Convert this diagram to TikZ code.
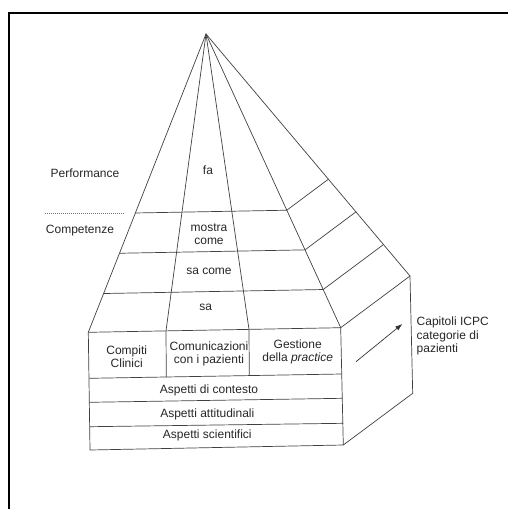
\documentclass[tikz,border=0pt]{standalone}
\usepackage{fontspec}
\setsansfont{Liberation Sans}
\usepackage{xcolor}
\usepackage{tikz}
\usetikzlibrary{arrows.meta, positioning, calc}

\begin{document}
\begin{tikzpicture}[
    x=1pt, y=-1pt,
    edge/.style={draw, black!75, line width=0.7pt},
    label/.style={align=center, inner sep=0pt, text=black!85, font=\fontsize{12}{13.5}\selectfont\sffamily},
    sidelabel/.style={align=left, inner sep=0pt, text=black!85, font=\fontsize{12}{13.8}\selectfont\sffamily},
    line/.style={draw, ->, >={Latex[length=7pt, width=5pt]}, black!80, line width=0.7pt},
    dottedline/.style={draw, black!55, line width=0.5pt, dash pattern=on 1pt off 1pt}
]
    \useasboundingbox (0,0) rectangle (508,509);
    \draw[line width=2pt] (8.5,509) -- (8.5,13) -- (508,13);

    % Pyramid corners
    \coordinate (apex) at (206,34);
    \coordinate (fl) at (88.3,332.3);
    \coordinate (d1) at (166,330.9);
    \coordinate (d2) at (249,329.4);
    \coordinate (fr) at (340.7,327.7);
    \coordinate (br) at (410,276);

    % Box corners
    \coordinate (r1l) at (89.3,378.3);  \coordinate (r1r) at (341.7,374);
    \coordinate (r2l) at (89.3,402.3);  \coordinate (r2r) at (342.3,398.3);
    \coordinate (r3l) at (90,426.7);    \coordinate (r3r) at (343.3,423.3);
    \coordinate (bl) at (90,450);       \coordinate (bfr) at (343.3,445);
    \coordinate (bbr) at (412.7,393.3);
    \coordinate (d1b) at (166.3,377);
    \coordinate (d2b) at (249.3,375.6);

    % Pyramid edges
    \draw[edge] (fl) -- (apex) -- (fr);
    \draw[edge] (apex) -- (br);
    \draw[edge] (apex) -- (d1) -- (d1b);
    \draw[edge] (apex) -- (d2) -- (d2b);

    % Levels
    \foreach \t in {0.6,0.735,0.87}
        \draw[edge] ($(apex)!\t!(fl)$) -- ($(apex)!\t!(fr)$) -- ($(apex)!\t!(br)$);

    % Box
    \draw[edge] (fl) -- (fr) -- (br);
    \draw[edge] (fl) -- (bl) -- (bfr) -- (fr);
    \draw[edge] (br) -- (bbr) -- (bfr);
    \draw[edge] (r1l) -- (r1r);
    \draw[edge] (r2l) -- (r2r);
    \draw[edge] (r3l) -- (r3r);

    % Labels on the left
    \node[label] (perf) at (85,173) {Performance};
    \node[label] (comp) at (80,230.7) {Competenze};
    \draw[dottedline] (45,213.3) -- (125,213.3);

    % Pyramid levels
    \node[label] (fa) at (208,170) {fa};
    \node[label] (mostra) at (209,234) {mostra\\come};
    \node[label] (sacome) at (209,271.7) {sa come};
    \node[label] (sa) at (205.7,307.3) {sa};

    % Box rows
    \node[label] (compiti) at (126.7,356.7) {Compiti\\Clinici};
    \node[label] (comunic) at (209,354) {Comunicazioni\\con i pazienti};
    \node[label] (gestione) at (297.7,351.7) {Gestione\\della \textit{practice}};
    \node[label] (contesto) at (209,390.7) {Aspetti di contesto};
    \node[label] (attit) at (207.3,414.3) {Aspetti attitudinali};
    \node[label] (scient) at (207.3,435.7) {Aspetti scientifici};

    % Side
    \node[sidelabel, anchor=west] (icpc) at (416.5,336) {Capitoli ICPC\\categorie di\\pazienti};
    \coordinate (arrS) at (356,361.7);
    \coordinate (arrE) at (402.3,324);
    \draw[line] (arrS) -- (arrE);
\end{tikzpicture}
\end{document}
